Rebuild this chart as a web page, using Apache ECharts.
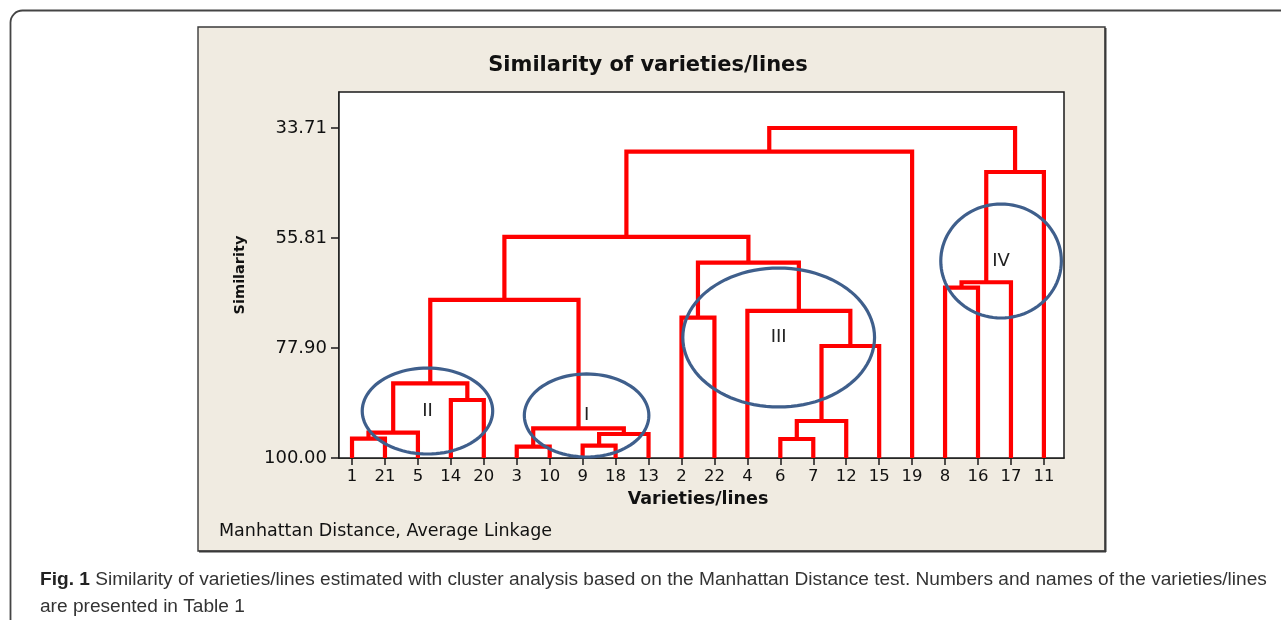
<!DOCTYPE html>
<html><head><meta charset="utf-8">
<script src="https://cdn.jsdelivr.net/npm/echarts@6/dist/echarts.min.js"></script>
<style>html,body{margin:0;padding:0;background:#fff;}#c{width:1281px;height:620px;}</style>
</head><body><div id="c"></div>
<script>
// ---- data ----
const leaves = ['1','21','5','14','20','3','10','9','18','13','2','22','4','6','7','12','15','19','8','16','17','11'];
const mergeLeft  = ['1','m1','14','m2','3','9','m6','m5','m4','2','6','m11','m12','4','m10','m9','m16','8','m18','m19','m17'];
const mergeRight = ['21','5','20','m3','10','18','13','m7','m8','22','7','12','15','m13','m14','m15','19','16','17','11','m20'];
const mergeHeight = [96.1,94.92,88.35,84.99,97.73,97.53,95.18,94.03,68.25,71.81,96.18,92.57,77.5,70.46,60.76,55.6,38.47,65.78,64.7,42.55,33.71];
const yTicks = [33.71, 55.81, 77.90, 100.00];
const groupNames = ['II','I','III','IV'];

// annotation ellipses (leaf-index / similarity units)
const groupShapes = [
  {cx:3.29, cy:90.56, rx:1.98, ry:8.64},
  {cx:8.12, cy:91.46, rx:1.89, ry:8.34},
  {cx:13.95, cy:75.79, rx:2.91, ry:13.96},
  {cx:20.70, cy:60.43, rx:1.83, ry:11.45}
];

// ---- build tree geometry ----
const pos = {}, hgt = {};
leaves.forEach((l,i)=>{pos[l]=i+1; hgt[l]=100;});
const links = mergeLeft.map((a,i)=>{
  const b = mergeRight[i], id = 'm'+(i+1);
  pos[id] = (pos[a]+pos[b])/2; hgt[id] = mergeHeight[i];
  return [pos[a], pos[b], hgt[a], hgt[b], mergeHeight[i]];
});

const FONT = 'DejaVu Sans';
const CAP = 'Liberation Sans';
const chart = echarts.init(document.getElementById('c'), null, {renderer:'canvas'});
const idx = leaves.map((_,i)=>i+1);

chart.setOption({
  backgroundColor:'#ffffff',
  animation:false,
  textStyle:{fontFamily:FONT},
  grid:{left:339, top:92, width:725, height:366, show:true, backgroundColor:'#ffffff', borderColor:'#1a1a1a', borderWidth:1.5, z:2},
  xAxis:{
    type:'value', min:0.605, max:22.61,
    axisLine:{show:true, lineStyle:{color:'#1a1a1a', width:1.5}},
    axisTick:{show:true, customValues:idx, length:7, inside:false, lineStyle:{color:'#1a1a1a', width:1.5}},
    axisLabel:{customValues:idx, formatter:v=>leaves[Math.round(v)-1], margin:10, fontSize:16.5, color:'#111', fontFamily:FONT},
    splitLine:{show:false}
  },
  yAxis:{
    type:'value', inverse:true, min:26.48, max:100,
    axisLine:{show:true, lineStyle:{color:'#1a1a1a', width:1.5}},
    axisTick:{show:true, customValues:yTicks, length:8, lineStyle:{color:'#1a1a1a', width:1.5}},
    axisLabel:{customValues:yTicks, formatter:v=>v.toFixed(2), margin:12, fontSize:18, color:'#111', fontFamily:FONT},
    splitLine:{show:false}
  },
  series:[
    {
      type:'custom', name:'dendrogram', z:5, clip:false,
      encode:{x:[0,1], y:[2,3,4]},
      data:links,
      renderItem:(params, api)=>{
        const xl=api.value(0), xr=api.value(1), hl=api.value(2), hr=api.value(3), h=api.value(4);
        return {type:'polyline', shape:{points:[api.coord([xl,hl]),api.coord([xl,h]),api.coord([xr,h]),api.coord([xr,hr])]},
          style:{stroke:'#ff0000', lineWidth:4.2, fill:null, lineJoin:'miter', lineCap:'butt'}};
      }
    },
    {
      type:'custom', name:'groups', z:6, clip:false,
      encode:{x:0, y:1},
      data:groupShapes.map((g,i)=>[g.cx, g.cy, g.rx, g.ry, i]),
      renderItem:(params, api)=>{
        const c = api.coord([api.value(0), api.value(1)]);
        const s = api.size([api.value(2), api.value(3)]);
        const pts = [];
        for(let k=0;k<96;k++){const t=k/96*Math.PI*2; pts.push([c[0]+s[0]*Math.cos(t), c[1]+s[1]*Math.sin(t)]);}
        return {type:'group', children:[
          {type:'polygon', shape:{points:pts}, style:{stroke:'#3f5f8c', lineWidth:3.2, fill:null}},
          {type:'text', x:c[0], y:c[1], style:{text:groupNames[api.value(4)], fontSize:18, fontFamily:FONT, fill:'#222', align:'center', verticalAlign:'middle'}}
        ]};
      }
    }
  ],
  graphic:{elements:[
    {type:'rect', z:-20, shape:{x:10.5,y:10.5,width:1320,height:660,r:12}, style:{fill:null, stroke:'#444', lineWidth:1.8}},
    {type:'rect', z:-10, shape:{x:198,y:27,width:907,height:524}, style:{fill:'#f0ebe1', stroke:'#3a3a3a', lineWidth:1.4}},
    {type:'line', z:-9, shape:{x1:199,y1:551.5,x2:1106,y2:551.5}, style:{stroke:'#3a3a3a', lineWidth:2}},
    {type:'line', z:-9, shape:{x1:1105.5,y1:28,x2:1105.5,y2:552}, style:{stroke:'#3a3a3a', lineWidth:2}},
    {type:'text', z:10, x:648, y:66, style:{text:'Similarity of varieties/lines', fontFamily:FONT, fontWeight:'bold', fontSize:21, fill:'#111', align:'center', verticalAlign:'middle'}},
    {type:'text', z:10, x:240, y:275, rotation:Math.PI/2, style:{text:'Similarity', fontFamily:FONT, fontWeight:'bold', fontSize:14.5, fill:'#111', align:'center', verticalAlign:'middle'}},
    {type:'text', z:10, x:698, y:499, style:{text:'Varieties/lines', fontFamily:FONT, fontWeight:'bold', fontSize:17.5, fill:'#111', align:'center', verticalAlign:'middle'}},
    {type:'text', z:10, x:219, y:531, style:{text:'Manhattan Distance, Average Linkage', fontFamily:FONT, fontSize:17.5, fill:'#111', align:'left', verticalAlign:'middle'}},
    {type:'text', z:10, x:40, y:580, style:{text:'{b|Fig. 1} Similarity of varieties/lines estimated with cluster analysis based on the Manhattan Distance test. Numbers and names of the varieties/lines', fontFamily:CAP, fontSize:19.1, fill:'#333', align:'left', verticalAlign:'middle', rich:{b:{fontWeight:'bold', fontFamily:CAP, fontSize:19.1, fill:'#222'}}}},
    {type:'text', z:10, x:40, y:607, style:{text:'are presented in Table 1', fontFamily:CAP, fontSize:19.1, fill:'#333', align:'left', verticalAlign:'middle'}}
  ]}
});
</script></body></html>
